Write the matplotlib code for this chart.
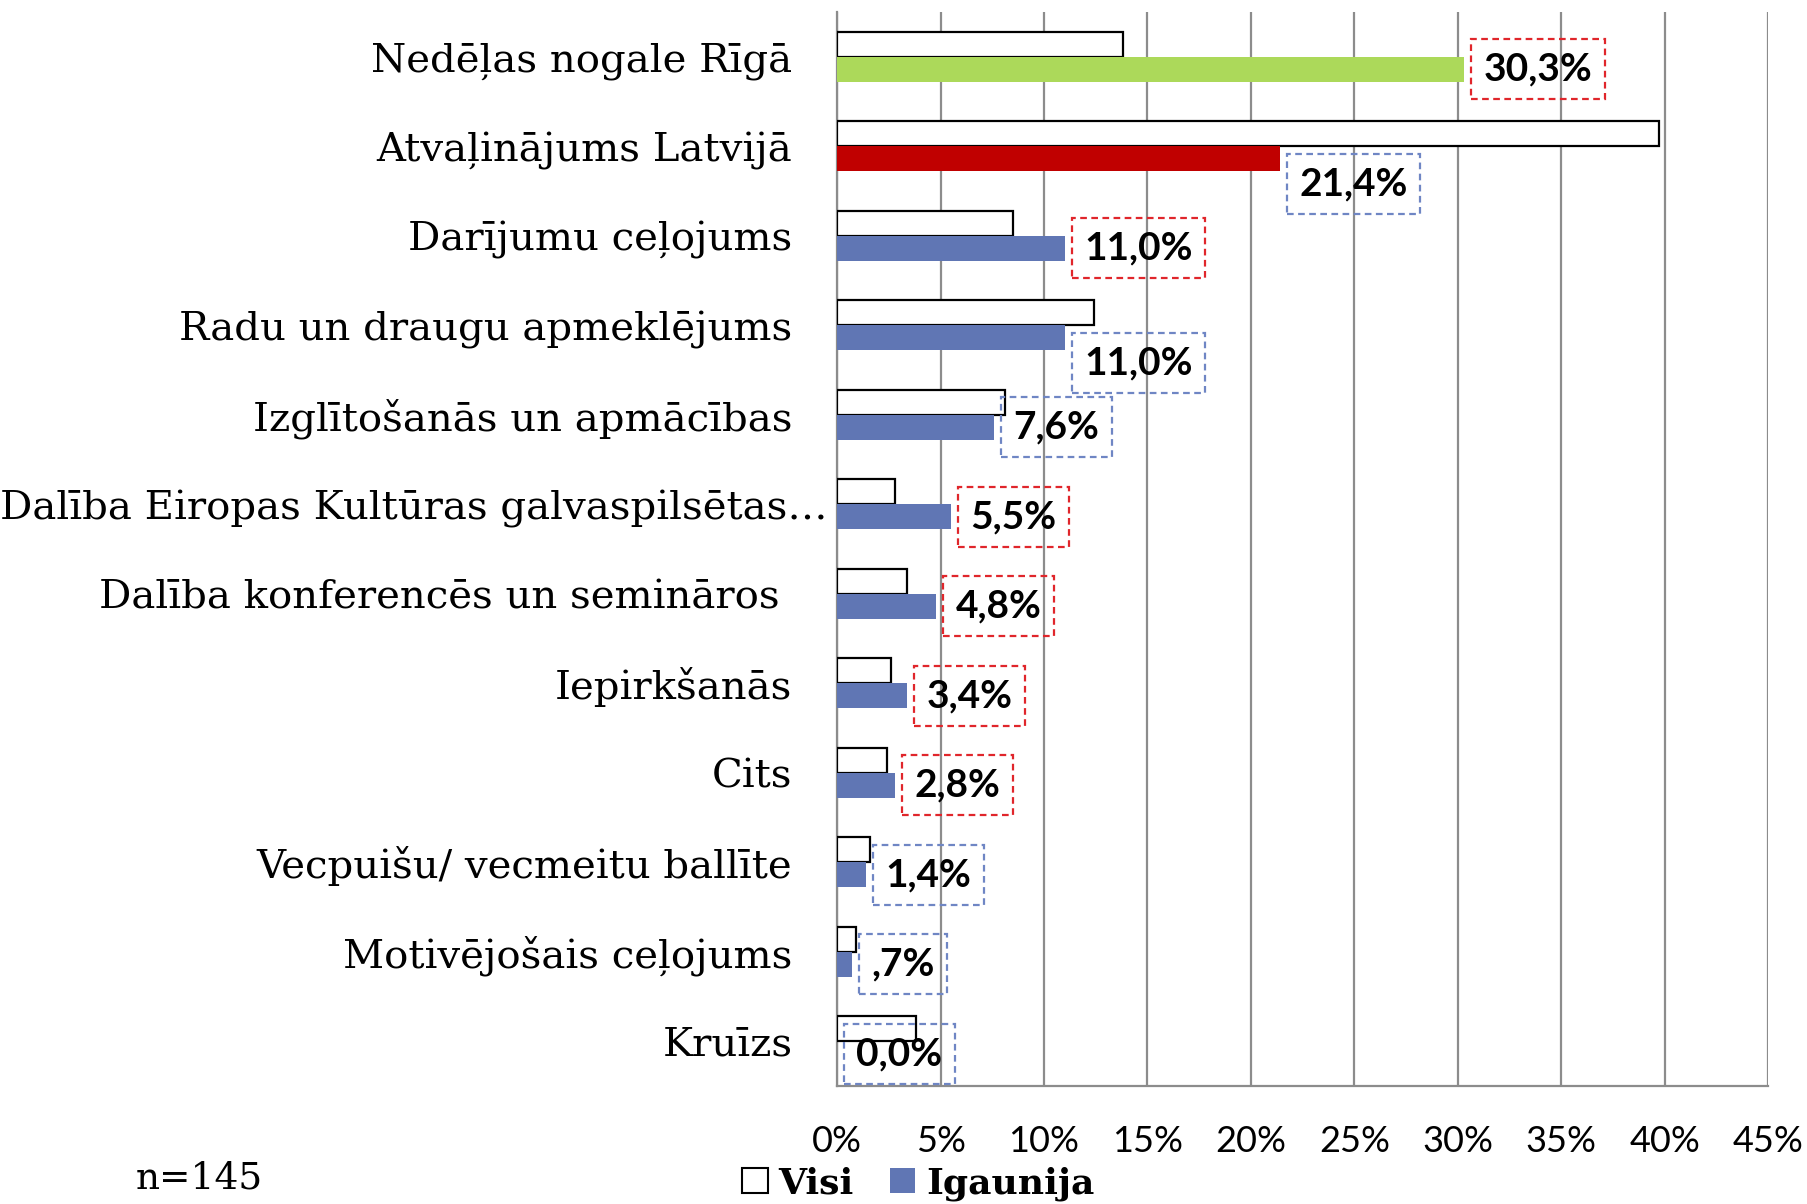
import matplotlib
matplotlib.use("Agg")
import matplotlib.pyplot as plt
from matplotlib.patches import Patch
import numpy as np

categories = ["Nedēļas nogale Rīgā", "Atvaļinājums Latvijā", "Darījumu ceļojums",
              "Radu un draugu apmeklējums", "Izglītošanās un apmācības",
              "Dalība Eiropas Kultūras galvaspilsētas…", "Dalība konferencēs un semināros ",
              "Iepirkšanās", "Cits", "Vecpuišu/ vecmeitu ballīte",
              "Motivējošais ceļojums", "Kruīzs"]
visi = [13.8, 39.7, 8.5, 12.4, 8.1, 2.8, 3.4, 2.6, 2.4, 1.6, 0.9, 3.8]
igaunija = [30.3, 21.4, 11.0, 11.0, 7.6, 5.5, 4.8, 3.4, 2.8, 1.4, 0.7, 0.0]
label_texts = ["30,3%", "21,4%", "11,0%", "11,0%", "7,6%", "5,5%", "4,8%", "3,4%",
               "2,8%", "1,4%", ",7%", "0,0%"]
tick_values = [0, 5, 10, 15, 20, 25, 30, 35, 40, 45]
tick_labels = ["0%", "5%", "10%", "15%", "20%", "25%", "30%", "35%", "40%", "45%"]

blue = "#6076b4"
bar_colors = ["#acd95a", "#c00000"] + [blue] * 10
box_colors = ["#e0262b", "#6f86c4", "#e0262b", "#6f86c4", "#6f86c4", "#e0262b",
              "#e0262b", "#e0262b", "#e0262b", "#6f86c4", "#6f86c4", "#6f86c4"]
label_dy = [0, -18, 0, -18, 0, 0, 0, 0, 0, 0, 0, 0]
cat_x = [-0.048, -0.048, -0.048, -0.048, -0.048, -0.010, -0.048, -0.048, -0.048,
         -0.048, -0.048, -0.048]

fig = plt.figure(figsize=(18.08, 12.04), dpi=100)
ax = fig.add_axes([0.463, 0.098, 0.515, 0.892])

y = np.arange(len(categories))
h = 0.28
ax.barh(y - h / 2, visi, height=h, color="white", edgecolor="black", linewidth=1.6, zorder=3)
ax.barh(y + h / 2, igaunija, height=h, color=bar_colors, edgecolor="none", zorder=3)

fs_lab = 28
pad = 0.32
for yi, v, t, bc, dy in zip(y, igaunija, label_texts, box_colors, label_dy):
    ax.annotate(t, xy=(v, yi + h / 2), xytext=(5 + pad * fs_lab, dy), textcoords="offset points",
                ha="left", va="center", fontsize=fs_lab, fontweight="bold", family="Lato",
                zorder=5,
                bbox=dict(boxstyle=f"square,pad={pad}", fc="none", ec=bc, lw=1.6,
                          linestyle=(0, (3, 2))))

ax.set_xlim(0, 45)
ax.set_ylim(len(categories) - 0.5, -0.5)
ax.set_xticks(tick_values)
ax.set_xticklabels(tick_labels, family="Lato", fontsize=26)
ax.tick_params(axis="x", length=0, pad=28)
ax.set_yticks(y)
ax.set_yticklabels([])
ax.tick_params(axis="y", length=0)
for yi, cat, cx in zip(y, categories, cat_x):
    ax.text(cx, yi, cat, transform=ax.get_yaxis_transform(), ha="right",
            va="center_baseline", family="DejaVu Serif", fontsize=29)
ax.xaxis.grid(True, color="#8c8c8c", linewidth=1.6, zorder=0)
ax.set_axisbelow(True)
for s in ["top", "right"]:
    ax.spines[s].set_visible(False)
for s in ["left", "bottom"]:
    ax.spines[s].set_color("#8c8c8c")
    ax.spines[s].set_linewidth(1.6)

handles = [Patch(facecolor="white", edgecolor="black", linewidth=1.5),
           Patch(facecolor=blue, edgecolor="none")]
fig.legend(handles, ["Visi", "Igaunija"], loc="center", bbox_to_anchor=(0.508, 0.017),
           ncol=2, frameon=False, prop=dict(family="DejaVu Serif", weight="bold", size=26),
           handlelength=0.7, handleheight=0.7, handletextpad=0.3, columnspacing=1.0)
fig.text(0.075, 0.021, "n=145", family="DejaVu Serif", fontsize=27, ha="left", va="center")

fig.savefig("out.png", dpi=100)
